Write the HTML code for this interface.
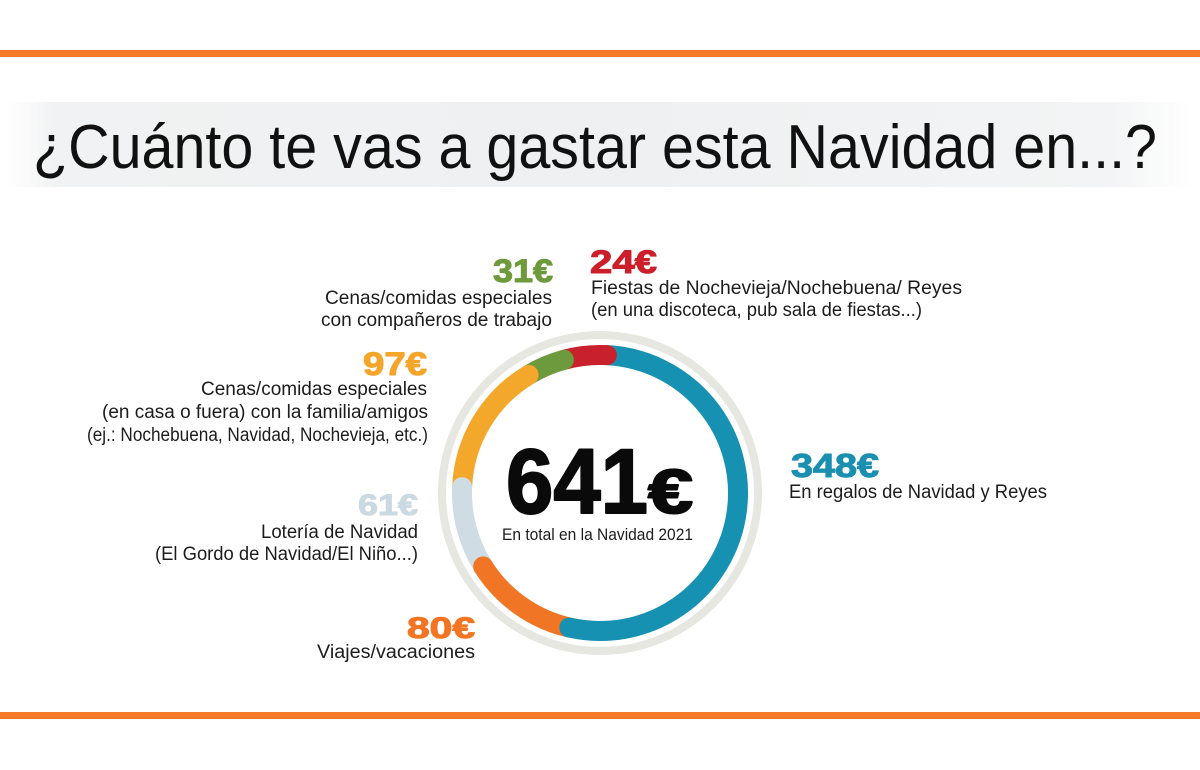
<!DOCTYPE html>
<html><head><meta charset="utf-8"><style>
html,body{margin:0;padding:0;background:#fff;}
svg{display:block;}
text{font-family:"Liberation Sans",sans-serif;}
.b{font-weight:bold;stroke-width:1;stroke-linejoin:round;}
.t{fill:#1c1c1c;font-size:19px;}
</style></head><body>
<svg width="1200" height="770" viewBox="0 0 1200 770" xmlns="http://www.w3.org/2000/svg">
<defs>
<linearGradient id="band" x1="0" x2="1" y1="0" y2="0">
<stop offset="0" stop-color="#ffffff"/>
<stop offset="0.04" stop-color="#f1f2f3"/>
<stop offset="0.5" stop-color="#eef0f1"/>
<stop offset="0.93" stop-color="#f3f4f5"/>
<stop offset="1" stop-color="#ffffff"/>
</linearGradient>
</defs>
<rect width="1200" height="770" fill="#fff"/>
<rect x="0" y="50" width="1200" height="7" fill="#f47a2a"/>
<rect x="0" y="712" width="1200" height="7" fill="#f47a2a"/>
<rect x="8" y="102" width="1184" height="85" fill="url(#band)"/>
<text x="33" y="168" font-size="62" fill="#111" textLength="1124" lengthAdjust="spacingAndGlyphs">¿Cuánto te vas a gastar esta Navidad en...?</text>

<!-- donut -->
<circle cx="600" cy="493" r="158" fill="none" stroke="#e7e7e1" stroke-width="8"/>
<g fill="none" stroke-width="20">
<path d="M563.93,359.80 A138,138 0 0 1 606.86,355.17" stroke="#c9212b"/>
<path d="M606.86,355.17 A138,138 0 1 1 569.31,627.54" stroke="#1791b2"/>
<path d="M569.31,627.54 A138,138 0 0 1 483.15,566.42" stroke="#f07524"/>
<path d="M483.15,566.42 A138,138 0 0 1 462.13,487.10" stroke="#cfdce4"/>
<path d="M462.13,487.10 A138,138 0 0 1 528.62,374.90" stroke="#f3a82b"/>
<path d="M528.62,374.90 A138,138 0 0 1 563.93,359.80" stroke="#6e9a3e"/>
</g>
<circle cx="606.86" cy="355.17" r="10" fill="#c9212b"/>
<circle cx="569.31" cy="627.54" r="10" fill="#1791b2"/>
<circle cx="483.15" cy="566.42" r="10" fill="#f07524"/>
<circle cx="462.13" cy="487.10" r="10" fill="#cfdce4"/>
<circle cx="528.62" cy="374.90" r="10" fill="#f3a82b"/>
<circle cx="563.93" cy="359.80" r="10" fill="#6e9a3e"/>

<text class="b" x="506" y="513" font-size="92" fill="#0a0a0a" stroke="#0a0a0a" style="stroke-width:2" textLength="142" lengthAdjust="spacingAndGlyphs">641</text>
<text class="b" x="648" y="513" font-size="62" fill="#0a0a0a" stroke="#0a0a0a" style="stroke-width:2" textLength="45" lengthAdjust="spacingAndGlyphs">€</text>
<text x="502" y="540" font-size="17" fill="#1c1c1c" textLength="191" lengthAdjust="spacingAndGlyphs">En total en la Navidad 2021</text>

<!-- 31 -->
<text class="b" x="493" y="282" font-size="32" fill="#6e9a3c" stroke="#6e9a3c" textLength="60" lengthAdjust="spacingAndGlyphs">31€</text>
<text class="t" x="325" y="304" textLength="227" lengthAdjust="spacingAndGlyphs">Cenas/comidas especiales</text>
<text class="t" x="321" y="326" textLength="231" lengthAdjust="spacingAndGlyphs">con compañeros de trabajo</text>

<!-- 24 -->
<text class="b" x="590" y="273" font-size="32" fill="#cc1f2a" stroke="#cc1f2a" textLength="67" lengthAdjust="spacingAndGlyphs">24€</text>
<text class="t" x="591" y="294" textLength="371" lengthAdjust="spacingAndGlyphs">Fiestas de Nochevieja/Nochebuena/ Reyes</text>
<text class="t" x="591" y="316" textLength="331" lengthAdjust="spacingAndGlyphs">(en una discoteca, pub sala de fiestas...)</text>

<!-- 97 -->
<text class="b" x="363" y="375" font-size="32" fill="#f5a52a" stroke="#f5a52a" textLength="64" lengthAdjust="spacingAndGlyphs">97€</text>
<text class="t" x="201" y="395" textLength="226" lengthAdjust="spacingAndGlyphs">Cenas/comidas especiales</text>
<text class="t" x="102" y="418" textLength="326" lengthAdjust="spacingAndGlyphs">(en casa o fuera) con la familia/amigos</text>
<text class="t" x="87" y="441" textLength="341" lengthAdjust="spacingAndGlyphs">(ej.: Nochebuena, Navidad, Nochevieja, etc.)</text>

<!-- 61 -->
<text class="b" x="358" y="515" font-size="30" fill="#cbd9e2" stroke="#cbd9e2" textLength="60" lengthAdjust="spacingAndGlyphs">61€</text>
<text class="t" x="261" y="538" textLength="157" lengthAdjust="spacingAndGlyphs">Lotería de Navidad</text>
<text class="t" x="155" y="560" textLength="263" lengthAdjust="spacingAndGlyphs">(El Gordo de Navidad/El Niño...)</text>

<!-- 80 -->
<text class="b" x="407" y="638" font-size="30" fill="#f37524" stroke="#f37524" textLength="68" lengthAdjust="spacingAndGlyphs">80€</text>
<text class="t" x="317" y="658" textLength="158" lengthAdjust="spacingAndGlyphs">Viajes/vacaciones</text>

<!-- 348 -->
<text class="b" x="791" y="477" font-size="33" fill="#1a8fb0" stroke="#1a8fb0" textLength="88" lengthAdjust="spacingAndGlyphs">348€</text>
<text class="t" x="789" y="498" textLength="258" lengthAdjust="spacingAndGlyphs">En regalos de Navidad y Reyes</text>
</svg>
</body></html>
